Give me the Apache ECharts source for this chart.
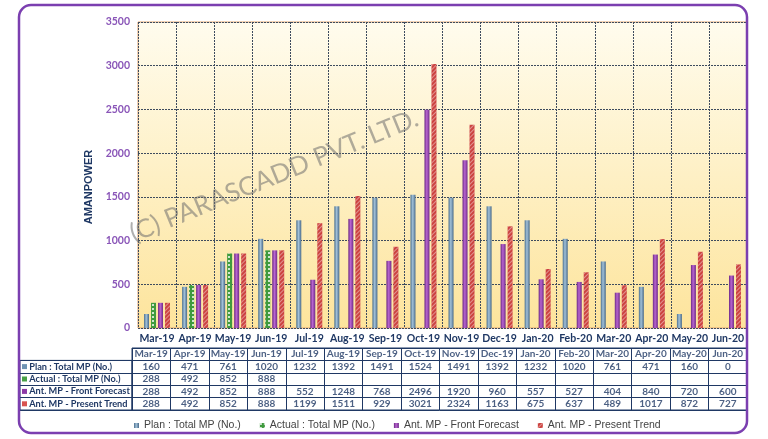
<!DOCTYPE html>
<html><head><meta charset="utf-8">
<script src="https://cdn.jsdelivr.net/npm/echarts@6/dist/echarts.min.js"></script>
<style>html,body{margin:0;padding:0;background:#fff}#c{width:768px;height:439px}</style>
</head><body><div id="c"></div>
<script>
const categories = ['Mar-19','Apr-19','May-19','Jun-19','Jul-19','Aug-19','Sep-19','Oct-19','Nov-19','Dec-19','Jan-20','Feb-20','Mar-20','Apr-20','May-20','Jun-20'];
const planMP = [160,471,761,1020,1232,1392,1491,1524,1491,1392,1232,1020,761,471,160,0];
const actualMP = [288,492,852,888,null,null,null,null,null,null,null,null,null,null,null,null];
const frontForecast = [288,492,852,888,552,1248,768,2496,1920,960,557,527,404,840,720,600];
const presentTrend = [288,492,852,888,1199,1511,929,3021,2324,1163,675,637,489,1017,872,727];
const seriesNames = ['Plan : Total MP (No.)','Actual : Total MP (No.)','Ant. MP - Front Forecast','Ant. MP - Present Trend'];
const yMin = 0, yMax = 3500, yStep = 500;
const axisTitle = 'AMANPOWER';
const watermark = '(C) PARASCADD PVT. LTD.';

const NAVY = '#1f3864';
const SANS = '"Liberation Sans",Arial,sans-serif';
const G = echarts.graphic;
const colors = {
  plan: new G.LinearGradient(0,0,1,0,[{offset:0,color:'#4a6f8e'},{offset:0.45,color:'#a3c1d8'},{offset:1,color:'#47698a'}]),
  front: new G.LinearGradient(0,0,1,0,[{offset:0,color:'#6a2784'},{offset:0.45,color:'#b865cf'},{offset:1,color:'#6e2a88'}])
};
const legendColors = ['#6f94b3','#48a046','#8d3aa6','#d9534f'];

const allSeriesData = [planMP, actualMP, frontForecast, presentTrend];
const tableCells = [];
categories.forEach((c,i)=>{ tableCells.push([i,0,c]); });
allSeriesData.forEach((arr,r)=>{ arr.forEach((v,i)=>{ if(v!==null && v!==undefined) tableCells.push([i,r+1,String(v)]); }); });

const chart = echarts.init(document.getElementById('c'), null, {renderer:'canvas'});
const barBase = { type:'bar', xAxisIndex:0, yAxisIndex:0, barWidth:5, barGap:'40%' };
const option = {
  animation:false,
  backgroundColor:'#fff',
  grid:[
    {left:138, right:21, top:22, height:306, show:true, borderColor:'#e2a46c', borderWidth:1,
     backgroundColor:new G.LinearGradient(0,0,0,1,[{offset:0,color:'#fffcee'},{offset:1,color:'#fde49c'}])},
    {left:132, right:21, top:348, height:62, show:true, borderColor:NAVY, borderWidth:1},
    {left:20, width:112, top:360.4, height:49.6, show:true, borderColor:NAVY, borderWidth:1}
  ],
  xAxis:[
    {type:'category', gridIndex:0, data:categories, axisLine:{show:false}, axisTick:{show:false},
     axisLabel:{interval:0, margin:5, color:NAVY, fontWeight:'bold', fontSize:10.5, fontFamily:'Lato, sans-serif'},
     splitLine:{show:true, interval:0, lineStyle:{color:'#3d4b5e', width:1, type:[2,1]}}},
    {type:'category', gridIndex:1, data:categories, axisLine:{show:false}, axisTick:{show:false}, axisLabel:{show:false},
     splitLine:{show:true, interval:0, lineStyle:{color:NAVY, width:1}}},
    {type:'category', gridIndex:2, data:['x'], show:false}
  ],
  yAxis:[
    {type:'value', gridIndex:0, min:yMin, max:yMax, interval:yStep, axisLine:{show:false}, axisTick:{show:false},
     axisLabel:{margin:8, color:'#8a56b8', fontSize:10.5, fontWeight:'bold', fontFamily:'Lato, sans-serif', formatter:v=>String(v)},
     splitLine:{show:true, lineStyle:{color:'#3d4b5e', width:1, type:[2,1]}},
     name:axisTitle, nameLocation:'middle', nameGap:35, nameRotate:90,
     nameTextStyle:{color:NAVY, fontWeight:'bold', fontSize:11, fontFamily:SANS, padding:[0,24,0,0]}},
    {type:'category', gridIndex:1, data:['0','1','2','3','4'], inverse:true, axisLine:{show:false}, axisTick:{show:false}, axisLabel:{show:false},
     splitLine:{show:true, interval:0, lineStyle:{color:NAVY, width:1}}},
    {type:'category', gridIndex:2, data:seriesNames, inverse:true, axisLine:{show:false}, axisTick:{show:false},
     splitLine:{show:true, interval:0, lineStyle:{color:NAVY, width:1}},
     axisLabel:{inside:true, margin:2, interval:0,
       formatter:(v,i)=>'{i'+i+'|} '+v,
       color:NAVY, fontWeight:'bold', fontSize:9.2, fontFamily:'Lato, sans-serif',
       rich:{
         i0:{backgroundColor:legendColors[0], width:5, height:5},
         i1:{backgroundColor:legendColors[1], width:5, height:5},
         i2:{backgroundColor:legendColors[2], width:5, height:5},
         i3:{backgroundColor:legendColors[3], width:5, height:5}
       }}}
  ],
  legend:{
    data:seriesNames, left:129, top:415, itemWidth:5, itemHeight:5, itemGap:19, icon:'rect',
    textStyle:{color:'#444', fontSize:10.5, fontFamily:SANS}
  },
  graphic:[
    {type:'rect', shape:{x:19, y:5, width:728, height:428, r:12}, style:{fill:'none', stroke:'#7b3fb0', lineWidth:2.5}, z:100, silent:true},
    {type:'text', x:274, y:176, rotation:0.39, z:1, silent:true,
     style:{text:watermark, fill:'rgba(110,110,110,0.55)', font:'26px Lato, sans-serif', textAlign:'center', textVerticalAlign:'middle'}}
  ],
  series:[
    Object.assign({}, barBase, {name:seriesNames[0], data:planMP, itemStyle:{color:colors.plan}}),
    Object.assign({}, barBase, {name:seriesNames[1], data:actualMP,
      itemStyle:{color:'#3f9a3e', decal:{symbol:'rect', symbolSize:1, color:'rgba(255,255,255,0.75)', dashArrayX:[1.5,1.5], dashArrayY:[1.5,1.5]}}}),
    Object.assign({}, barBase, {name:seriesNames[2], data:frontForecast, itemStyle:{color:colors.front}}),
    Object.assign({}, barBase, {name:seriesNames[3], data:presentTrend,
      itemStyle:{color:'#cc4340', decal:{symbol:'rect', symbolSize:1, color:'rgba(255,255,255,0.42)', dashArrayX:[1,0], dashArrayY:[1,1.5], rotation:-Math.PI/4}}}),
    {type:'scatter', xAxisIndex:1, yAxisIndex:1, data:tableCells, symbolSize:1, silent:true,
     itemStyle:{color:'rgba(0,0,0,0)'},
     label:{show:true, position:'inside', formatter:p=>p.value[2], color:NAVY, fontWeight:'bold', fontSize:10, fontFamily:'Lato, sans-serif'}}
  ]
};
chart.setOption(option);
</script>
</body></html>
